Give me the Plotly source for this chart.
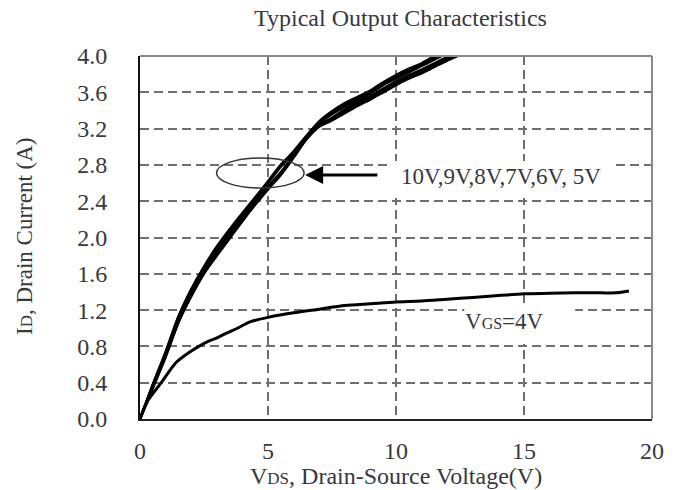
import plotly.graph_objects as go

# ---- data ----
vds_bundle = [0, 0.5, 1.0, 1.5, 2.0, 2.5, 3.0, 3.5, 4.0, 4.5, 5.0, 5.5, 6.0, 6.5, 7.0,
              7.5, 8.0, 8.5, 9.0, 9.5, 10.0, 10.5, 11.0, 11.5, 12.0, 12.5, 13.0]
id_10v = [0, 0.38, 0.74, 1.13, 1.43, 1.68, 1.90, 2.09, 2.27, 2.44, 2.61, 2.79, 2.95, 3.12, 3.28,
          3.39, 3.48, 3.55, 3.62, 3.71, 3.79, 3.86, 3.92, 4.00, 4.07, 4.13, 4.19]
id_9v = [0, 0.37, 0.73, 1.12, 1.42, 1.67, 1.88, 2.07, 2.26, 2.44, 2.62, 2.80, 2.94, 3.11, 3.27,
         3.38, 3.46, 3.53, 3.61, 3.70, 3.77, 3.84, 3.91, 3.98, 4.05, 4.11, 4.17]
id_8v = [0, 0.37, 0.72, 1.10, 1.41, 1.65, 1.86, 2.05, 2.24, 2.42, 2.60, 2.78, 2.93, 3.10, 3.26,
         3.36, 3.44, 3.51, 3.59, 3.68, 3.75, 3.82, 3.89, 3.96, 4.03, 4.09, 4.15]
id_7v = [0, 0.36, 0.71, 1.09, 1.39, 1.63, 1.84, 2.03, 2.22, 2.40, 2.56, 2.72, 2.91, 3.10, 3.24,
         3.32, 3.41, 3.49, 3.56, 3.64, 3.72, 3.79, 3.85, 3.92, 3.99, 4.05, 4.11]
id_6v = [0, 0.35, 0.70, 1.07, 1.37, 1.61, 1.82, 2.01, 2.20, 2.38, 2.54, 2.70, 2.90, 3.09, 3.23,
         3.30, 3.39, 3.47, 3.54, 3.62, 3.70, 3.77, 3.83, 3.90, 3.97, 4.03, 4.09]
id_5v = [0, 0.34, 0.68, 1.06, 1.35, 1.60, 1.80, 1.99, 2.18, 2.36, 2.53, 2.69, 2.88, 3.08, 3.22,
         3.29, 3.37, 3.45, 3.52, 3.60, 3.68, 3.75, 3.81, 3.88, 3.95, 4.01, 4.07]

vds_4v = [0, 0.3, 0.83, 1.4, 1.9, 2.3, 2.7, 3.05, 3.4, 3.8, 4.3, 5.0, 6.0, 7.0, 8.0, 9.0, 10.0,
          11.0, 12.0, 13.0, 14.0, 15.0, 16.0, 17.0, 18.0, 18.6, 19.1]
id_4v = [0, 0.2, 0.4, 0.62, 0.73, 0.8, 0.86, 0.9, 0.95, 1.0, 1.07, 1.12, 1.17, 1.21, 1.25, 1.27,
         1.29, 1.30, 1.32, 1.34, 1.36, 1.38, 1.385, 1.39, 1.39, 1.39, 1.41]

x_ticks = [0, 5, 10, 15, 20]
y_ticks = [0.0, 0.4, 0.8, 1.2, 1.6, 2.0, 2.4, 2.8, 3.2, 3.6, 4.0]

title_text = "Typical Output Characteristics"
x_title = "V<span style='font-size:17px'>DS</span>, Drain-Source Voltage(V)"
y_title = "I<span style='font-size:17px'>D</span>, Drain Current (A)"
bundle_label = "10V,9V,8V,7V,6V, 5V"
vgs4_label = "V<span style='font-size:16px'>GS</span>=4V"

FONT = "Liberation Serif, Times New Roman, serif"
TXT = "#383840"

fig = go.Figure()
for ys in [id_10v, id_9v, id_8v, id_7v, id_6v, id_5v]:
    fig.add_trace(go.Scatter(x=vds_bundle, y=ys, mode="lines",
                             line=dict(color="black", width=2.5, shape="spline", smoothing=0.8),
                             showlegend=False, hoverinfo="skip"))
fig.add_trace(go.Scatter(x=vds_4v, y=id_4v, mode="lines",
                         line=dict(color="black", width=3, shape="spline", smoothing=0.8),
                         showlegend=False, hoverinfo="skip"))

shapes = [
    dict(type="rect", xref="x", yref="y", x0=9.79, x1=18.43, y0=2.435, y1=2.843,
         fillcolor="white", line=dict(width=0), layer="between"),
    dict(type="rect", xref="x", yref="y", x0=12.67, x1=17.0, y0=0.826, y1=1.245,
         fillcolor="white", line=dict(width=0), layer="between"),
    dict(type="circle", xref="x", yref="y", x0=2.99, x1=6.41, y0=2.545, y1=2.876,
         line=dict(color="#333333", width=1.5), layer="above"),
    dict(type="line", xref="paper", yref="paper", x0=0, x1=1, y0=1, y1=1,
         line=dict(color="#8a8a8a", width=2)),
    dict(type="line", xref="paper", yref="paper", x0=1, x1=1, y0=0, y1=1,
         line=dict(color="#8a8a8a", width=2)),
]

annotations = [
    dict(text=title_text, xref="paper", yref="paper", x=0.509, y=1.105,
         xanchor="center", yanchor="middle", showarrow=False,
         font=dict(family=FONT, size=24, color=TXT)),
    dict(text=x_title, xref="paper", yref="paper", x=0.50, y=-0.158,
         xanchor="center", yanchor="middle", showarrow=False,
         font=dict(family=FONT, size=24, color=TXT)),
    dict(text=y_title, xref="paper", yref="paper", x=-0.226, y=0.505, textangle=-90,
         xanchor="center", yanchor="middle", showarrow=False,
         font=dict(family=FONT, size=23, color=TXT)),
    dict(text=bundle_label, xref="x", yref="y", x=14.09, y=2.667,
         xanchor="center", yanchor="middle", showarrow=False,
         font=dict(family=FONT, size=23, color=TXT)),
    dict(text=vgs4_label, xref="x", yref="y", x=14.22, y=1.07,
         xanchor="center", yanchor="middle", showarrow=False,
         font=dict(family=FONT, size=23, color=TXT)),
    dict(text="", x=6.45, y=2.69, ax=9.33, ay=2.69, xref="x", yref="y",
         axref="x", ayref="y", showarrow=True, arrowhead=2, arrowsize=1.2,
         arrowwidth=3, arrowcolor="black"),
]

fig.update_layout(
    width=676, height=490,
    margin=dict(l=140, r=15, t=56, b=71),
    paper_bgcolor="white", plot_bgcolor="white",
    shapes=shapes, annotations=annotations,
    font=dict(family=FONT, size=24, color=TXT),
    xaxis=dict(range=[0, 20], tickvals=x_ticks, ticktext=[str(v) for v in x_ticks],
               showgrid=True, gridcolor="#707070", gridwidth=2, griddash="9px,5px",
               zeroline=False, showline=True, linecolor="#222222", linewidth=2,
               ticks="", ticklabelstandoff=9,
               tickfont=dict(family=FONT, size=24, color=TXT)),
    yaxis=dict(range=[0, 4.0], tickvals=y_ticks, ticktext=[f"{v:.1f}" for v in y_ticks],
               showgrid=True, gridcolor="#707070", gridwidth=2, griddash="9px,5px",
               zeroline=False, showline=True, linecolor="#111111", linewidth=2,
               ticks="", ticklabelstandoff=26,
               tickfont=dict(family=FONT, size=24, color=TXT)),
)

fig.write_html("out.html")
